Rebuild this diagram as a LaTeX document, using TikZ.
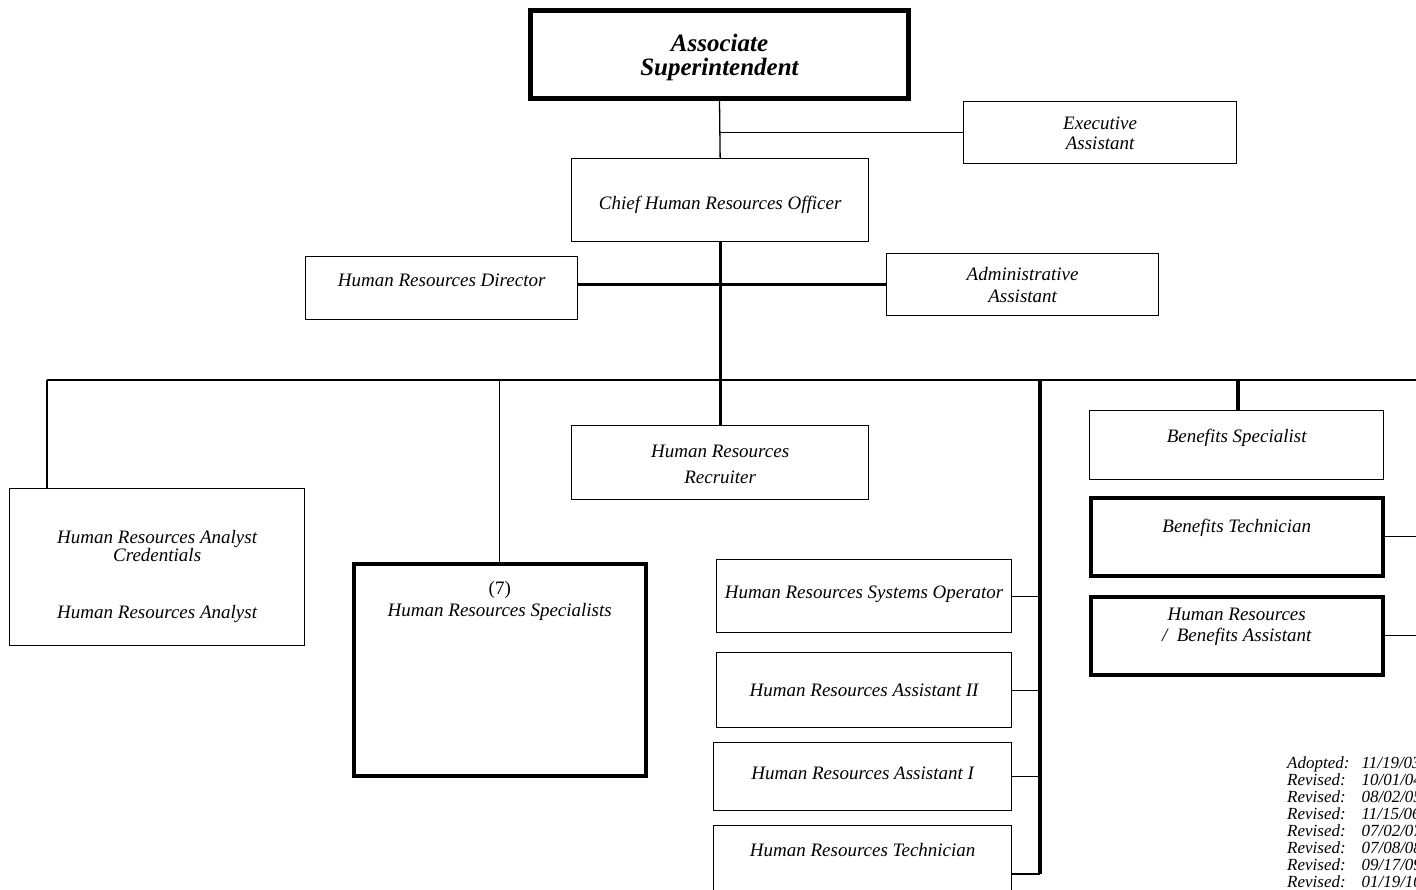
\documentclass[tikz,border=0pt]{standalone}
\usepackage{fontspec}
\setmainfont{Liberation Serif}
\begin{document}
\begin{tikzpicture}[x=1pt,y=-1pt,
	poste/.style={draw,rectangle,anchor=north west,line width=1.3pt,inner sep=0pt,align=center,
		font=\itshape\fontsize{19}{22}\selectfont},
	posteepais/.style={poste,line width=3.5pt},
	lien/.style={line width=1.3pt},
	lienepais/.style={line width=3.2pt}]
	\useasboundingbox (0,0) rectangle (1416,890);
	\clip (0,0) rectangle (1416,890);
	% Définition des noeuds
	\node[poste,line width=5pt,minimum width=378,text height=65,text depth=23,
		font=\bfseries\itshape\fontsize{25}{24}\selectfont] (as) at (528,8) {Associate\\Superintendent};
	\node[poste,minimum width=273,text height=48,text depth=14] (exec) at (963,101) {Executive\\[-2pt]Assistant};
	\node[poste,minimum width=297,text height=51,text depth=32] (chro) at (571,158) {Chief Human Resources Officer};
	\node[poste,minimum width=272,text height=30,text depth=33] (hrd) at (305,256) {Human Resources Director};
	\node[poste,minimum width=272,text height=49,text depth=13] (admin) at (886,253) {Administrative\\Assistant};
	\node[poste,minimum width=297,text height=58,text depth=16] (recr) at (571,425) {Human Resources\\[4pt]Recruiter};
	\node[poste,minimum width=295,text height=130,text depth=27] (analyst) at (9,488)
		{Human Resources Analyst\\[-4pt]Credentials\\[35pt]Human Resources Analyst};
	\node[posteepais,minimum width=292,text height=53,text depth=159] (spec) at (352,562) {\upshape(7)\\Human Resources Specialists};
	\node[poste,minimum width=295,text height=39,text depth=34] (sysop) at (716,559) {Human Resources Systems Operator};
	\node[poste,minimum width=295,text height=44,text depth=31] (asst2) at (716,652) {Human Resources Assistant II};
	\node[poste,minimum width=298,text height=37,text depth=31] (asst1) at (713,742) {Human Resources Assistant I};
	\node[poste,minimum width=298,text height=31,text depth=60] (tech) at (713,825) {Human Resources Technician};
	\node[poste,minimum width=294,text height=32,text depth=37] (benspec) at (1089,410) {Benefits Specialist};
	\node[posteepais,minimum width=292,text height=35,text depth=43] (bentech) at (1089,496) {Benefits Technician};
	\node[posteepais,minimum width=292,text height=45,text depth=33] (hrba) at (1089,595) {Human Resources\\[-1pt]/ \ Benefits Assistant};
	\node[anchor=north west,inner sep=0pt,font=\itshape\fontsize{17}{17}\selectfont] (revisions) at (1287,756)
		{\begin{tabular}{@{}l@{\hspace{12pt}}l@{}}
			Adopted: & 11/19/03\\ Revised: & 10/01/04\\ Revised: & 08/02/05\\ Revised: & 11/15/06\\
			Revised: & 07/02/07\\ Revised: & 07/08/08\\ Revised: & 09/17/09\\ Revised: & 01/19/10
		\end{tabular}};
	\coordinate (busG) at (47,380);
	\coordinate (busD) at (1416,380);
	\coordinate (colR) at (1040,380);
	\coordinate (colRbas) at (1040,874);
	\coordinate (benH) at (1238,380);
	
	% Définition des liens
	\draw[lien] (as.south) -- (chro.north);
	\draw[lien] (as.south |- exec.west) -- (exec.west);
	\draw[lienepais] (admin.west -| hrd.east) -- (admin.west);
	\draw[lien] (busG) -- (busD);
	\draw[lienepais] (chro.south) -- (recr.north);
	\draw[lien] (busG) -- (busG |- analyst.north);
	\draw[lien] (spec.north |- busG) -- (spec.north);
	\draw[lienepais] (colR) -- (colRbas);
	\draw[lien] (sysop.east) -- (sysop.east -| colR);
	\draw[lien] (asst2.east) -- (asst2.east -| colR);
	\draw[lien] (asst1.east) -- (asst1.east -| colR);
	\draw[lien] (colRbas -| tech.east) -- (colRbas);
	\draw[lienepais] (benH) -- (benH |- benspec.north);
	\draw[lien] (bentech.east) -- (bentech.east -| busD);
	\draw[lien] (hrba.east) -- (hrba.east -| busD);
\end{tikzpicture}
\end{document}
